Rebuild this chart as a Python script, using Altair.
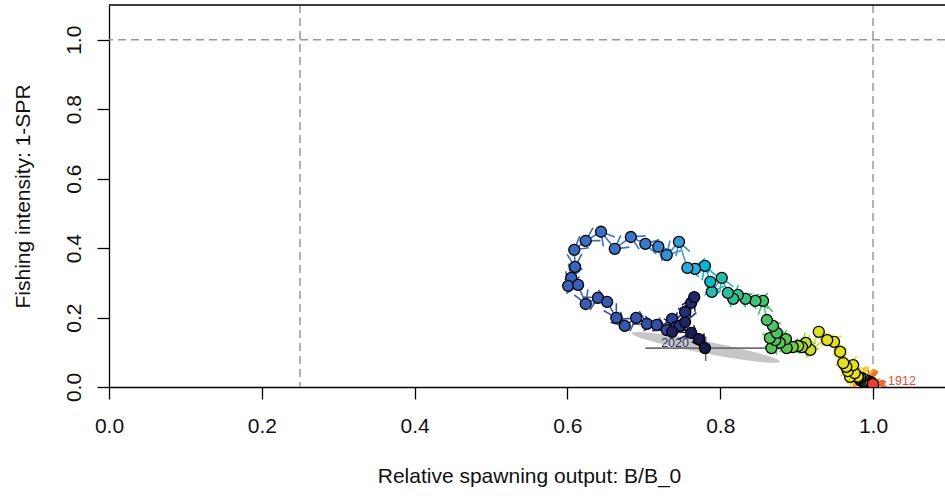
import altair as alt
import numpy as np
import pandas as pd

# ---------------- data ----------------
years = list(range(1912, 2021))

bratio = [
    # 1912-1951
    1.000, 0.999, 0.998, 0.999, 0.997, 0.996, 0.997, 0.995, 0.996, 0.994,
    0.995, 0.993, 0.994, 0.992, 0.993, 0.991, 0.992, 0.990, 0.991, 0.989,
    0.990, 0.992, 0.993, 0.991, 0.989, 0.988, 0.987, 0.988, 0.986, 0.985,
    0.987, 0.985, 0.984, 0.986, 0.984, 0.983, 0.982, 0.983, 0.981, 0.980,
    # 1952-1965
    0.970, 0.976, 0.967, 0.974, 0.965, 0.961, 0.957, 0.949, 0.940, 0.929,
    0.918, 0.912, 0.907, 0.902,
    # 1966-1980
    0.895, 0.887, 0.886, 0.878, 0.867, 0.872, 0.865, 0.874, 0.869, 0.861,
    0.856, 0.846, 0.833, 0.823, 0.817,
    # 1981-1988
    0.810, 0.802, 0.789, 0.787, 0.780, 0.767, 0.757, 0.746,
    # 1989-2008
    0.730, 0.719, 0.702, 0.683, 0.662, 0.644, 0.624, 0.609, 0.610, 0.605,
    0.601, 0.614, 0.624, 0.640, 0.652, 0.664, 0.675, 0.690, 0.704, 0.717,
    # 2009-2020
    0.730, 0.737, 0.742, 0.747, 0.754, 0.762, 0.766, 0.754, 0.737, 0.762,
    0.772, 0.780,
]

spr = [
    # 1912-1951
    0.008, 0.010, 0.011, 0.009, 0.012, 0.010, 0.013, 0.011, 0.014, 0.012,
    0.015, 0.013, 0.016, 0.014, 0.017, 0.015, 0.018, 0.016, 0.019, 0.017,
    0.014, 0.012, 0.010, 0.011, 0.013, 0.015, 0.018, 0.020, 0.019, 0.022,
    0.024, 0.021, 0.019, 0.017, 0.020, 0.023, 0.025, 0.028, 0.027, 0.030,
    # 1952-1965
    0.029, 0.040, 0.046, 0.063, 0.058, 0.069, 0.101, 0.130, 0.135, 0.159,
    0.107, 0.127, 0.115, 0.118,
    # 1966-1980
    0.115, 0.112, 0.138, 0.127, 0.112, 0.135, 0.141, 0.156, 0.176, 0.193,
    0.248, 0.248, 0.254, 0.265, 0.254,
    # 1981-1988
    0.271, 0.314, 0.274, 0.303, 0.349, 0.340, 0.343, 0.418,
    # 1989-2008
    0.380, 0.404, 0.412, 0.432, 0.398, 0.447, 0.421, 0.395, 0.346, 0.314,
    0.291, 0.294, 0.239, 0.257, 0.245, 0.199, 0.176, 0.199, 0.182, 0.179,
    # 2009-2020
    0.164, 0.196, 0.173, 0.176, 0.216, 0.242, 0.259, 0.187, 0.159, 0.156,
    0.138, 0.112,
]

# colour ramp by year
color_years = [1912, 1925, 1940, 1952, 1961, 1964, 1967, 1975, 1979, 1983,
               1986, 1988, 1991, 2000, 2008, 2012, 2020]
color_values = ["#e8402a", "#f07a22", "#f2b51e", "#e8e01e", "#dfe023",
                "#a8d63a", "#5cc452", "#4cc266", "#38bf8a", "#2cbbb0",
                "#24b2dc", "#3a9ad8", "#3a78c8", "#3a5fb6", "#3450a8",
                "#263282", "#161a48"]

# reference lines
ref_x = [0.25, 1.0]
ref_y = [1.0]

# final-year uncertainty: ellipse and intervals
ell_center = [0.781, 0.114]
ell_tip = [0.878, 0.073]
ci_x_lo, ci_x_hi, ci_x_at = 0.702, 0.872, 0.112
ci_y_lo, ci_y_hi, ci_y_at = 0.075, 0.145, 0.781

x_ticks = [0.0, 0.2, 0.4, 0.6, 0.8, 1.0]
y_ticks = [0.0, 0.2, 0.4, 0.6, 0.8, 1.0]

# ---------------- layout ----------------
W, H = 836, 382
XMAX, YMAX = 1.0942, 1.1
kx, ky = W / XMAX, H / YMAX
FONT = "Liberation Sans"

df = pd.DataFrame({"year": years, "x": bratio, "y": spr})

x0 = np.array(bratio[:-1]); y0 = np.array(spr[:-1])
x1 = np.array(bratio[1:]); y1 = np.array(spr[1:])
ang = (np.degrees(np.arctan2(-(y1 - y0) * ky, (x1 - x0) * kx)) + 360.0) % 360.0
seg = pd.DataFrame({"year": years[1:], "x": x0, "y": y0, "x2": x1, "y2": y1,
                    "xe": x1, "ye": y1, "ang": ang})

# ellipse (thin, tilted) built from centre, tip and a pixel half-width
cx, cy = ell_center
vx, vy = ell_tip[0] - cx, ell_tip[1] - cy
vpx, vpy = vx * kx, vy * ky
n = np.hypot(vpx, vpy)
half_px = 6.0
wpx, wpy = -vpy / n * half_px, vpx / n * half_px
wx, wy = wpx / kx, wpy / ky
A = np.array([[vx, wx], [vy, wy]])
S = A @ A.T
t = np.linspace(np.pi, 0, 241)
ex = cx + np.sqrt(S[0, 0]) * np.cos(t)
d = ex - cx
yc = cy + S[0, 1] / S[0, 0] * d
hh = np.sqrt(np.clip((S[1, 1] - S[0, 1] ** 2 / S[0, 0]) * (1 - d ** 2 / S[0, 0]), 0, None))
ell = pd.DataFrame({"x": ex, "y": yc + hh, "y2": yc - hh})

ci = pd.DataFrame({"x": [ci_x_lo, ci_y_at], "x2": [ci_x_hi, ci_y_at],
                   "y": [ci_x_at, ci_y_lo], "y2": [ci_x_at, ci_y_hi]})

xscale = alt.Scale(domain=[0, XMAX], nice=False, zero=False)
yscale = alt.Scale(domain=[0, YMAX], nice=False, zero=False)

xaxis = alt.Axis(title="Relative spawning output: B/B_0", values=x_ticks, format=".1f",
                 grid=False, labelFont=FONT, labelFontSize=21, labelColor="#111111",
                 labelPadding=16, labelBaseline="top", labelAlign="center",
                 tickSize=12, tickColor="black", tickWidth=1.3,
                 domainColor="black", domainWidth=1.3,
                 titleFont=FONT, titleFontSize=21, titleFontWeight="normal",
                 titleColor="#111111", titleX=420, titleY=95,
                 titleBaseline="alphabetic", titleAlign="center")
yaxis = alt.Axis(title="Fishing intensity: 1-SPR", values=y_ticks, format=".1f",
                 grid=False, labelFont=FONT, labelFontSize=21, labelColor="#111111",
                 labelAngle=270, labelAlign="center", labelBaseline="alphabetic",
                 labelPadding=17,
                 tickSize=12, tickColor="black", tickWidth=1.3,
                 domainColor="black", domainWidth=1.3,
                 titleFont=FONT, titleFontSize=21, titleFontWeight="normal",
                 titleColor="#111111", titleAngle=270, titleX=-80, titleY=H / 2,
                 titleBaseline="alphabetic", titleAlign="center")


def X(f="x"):
    return alt.X(f"{f}:Q", scale=xscale, axis=xaxis)


def Y(f="y"):
    return alt.Y(f"{f}:Q", scale=yscale, axis=yaxis)


cscale = alt.Scale(domain=color_years, range=color_values, type="linear")

ellipse = alt.Chart(ell).mark_area(color="#c6c6c6", clip=True).encode(
    x=X(), y=Y(), y2="y2:Q")

ci_lines = alt.Chart(ci).mark_rule(color="#6e6e6e", strokeWidth=1.6, clip=True).encode(
    x=X(), x2="x2:Q", y=Y(), y2="y2:Q")

vref = alt.Chart(pd.DataFrame({"x": ref_x})).mark_rule(
    color="#9a9a9a", strokeWidth=1.5, strokeDash=[8, 5]).encode(x=X())
href = alt.Chart(pd.DataFrame({"y": ref_y})).mark_rule(
    color="#9a9a9a", strokeWidth=1.5, strokeDash=[8, 5]).encode(y=Y())

top_border = alt.Chart(pd.DataFrame({"a": [0]})).mark_rule(
    color="black", strokeWidth=1.3).encode(
    x=alt.value(0), x2=alt.value(W), y=alt.value(0))

segments = alt.Chart(seg).mark_rule(strokeWidth=1.5, clip=True).encode(
    x=X(), y=Y(), x2="x2:Q", y2="y2:Q",
    color=alt.Color("year:Q", scale=cscale, legend=None))

heads = alt.Chart(seg).mark_point(
    shape="M -1 -0.577 L 0 0 L -1 0.577", filled=False, size=650,
    strokeWidth=1.6, opacity=1, clip=True).encode(
    x=X("xe"), y=Y("ye"),
    color=alt.Color("year:Q", scale=cscale, legend=None),
    angle=alt.Angle("ang:Q", scale=None))

points = alt.Chart(df).mark_point(
    shape="circle", filled=True, size=121, stroke="black", strokeWidth=1.3,
    opacity=1, clip=True).encode(
    x=X(), y=Y(),
    fill=alt.Fill("year:Q", scale=cscale, legend=None),
    order=alt.Order("year:Q"))

first = df[df.year == years[0]]
last = df[df.year == years[-1]]

first_pt = alt.Chart(first).mark_point(
    shape="circle", filled=True, size=121, stroke="black", strokeWidth=1.0,
    opacity=1, clip=True, fill=color_values[0]).encode(x=X(), y=Y())

first_lab = alt.Chart(first.assign(lab=lambda d: d.year.astype(str))).mark_text(
    align="left", baseline="alphabetic", dx=15, dy=1, font=FONT, fontSize=12.5,
    color="#ea4a30").encode(x=X(), y=Y(), text="lab:N")

last_lab = alt.Chart(last.assign(lab=lambda d: d.year.astype(str))).mark_text(
    align="right", baseline="alphabetic", dx=-16, dy=-1, font=FONT, fontSize=12.5,
    color="#2c2e66").encode(x=X(), y=Y(), text="lab:N")

chart = alt.layer(
    ellipse, ci_lines, vref, href, top_border, segments, heads, points,
    first_pt, first_lab, last_lab
).resolve_scale(color="shared").properties(
    width=W, height=H,
    autosize=alt.AutoSizeParams(type="none"),
    padding={"left": 109, "top": 5, "right": 0, "bottom": 109},
).configure_view(stroke=None).configure(background="white")

chart.save("out.html", embed_options={"renderer": "svg", "actions": False})
